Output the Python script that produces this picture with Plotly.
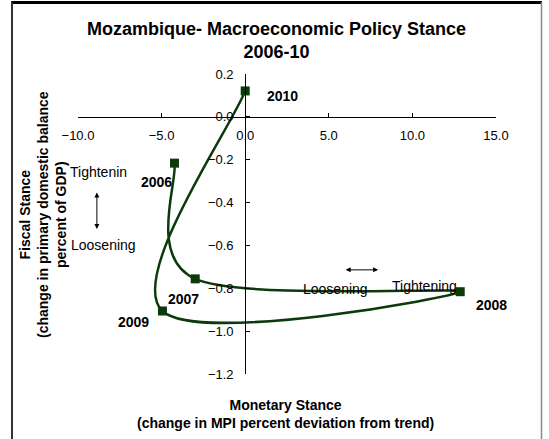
import plotly.graph_objects as go

years = ["2006", "2007", "2008", "2009", "2010"]
monetary = [-4.23, -2.99, 12.86, -4.95, 0.0]
fiscal = [-0.216, -0.756, -0.816, -0.906, 0.121]

x_ticks = [-10, -5, 0, 5, 10, 15]
y_ticks = [0.2, 0.0, -0.2, -0.4, -0.6, -0.8, -1.0, -1.2]

GREEN = "#0b3b0b"
FONT = "Liberation Sans, Arial, sans-serif"


def smooth_path(xs, ys):
    """Excel-style smoothed line: cubic Bezier segments with Catmull-Rom control points."""
    pts = list(zip(xs, ys))
    n = len(pts)
    d = "M %.5f,%.5f" % pts[0]
    for i in range(n - 1):
        p0 = pts[i - 1] if i > 0 else pts[i]
        p1 = pts[i]
        p2 = pts[i + 1]
        p3 = pts[i + 2] if i + 2 < n else pts[i + 1]
        c1 = (p1[0] + (p2[0] - p0[0]) / 6, p1[1] + (p2[1] - p0[1]) / 6)
        c2 = (p2[0] - (p3[0] - p1[0]) / 6, p2[1] - (p3[1] - p1[1]) / 6)
        d += " C %.5f,%.5f %.5f,%.5f %.5f,%.5f" % (c1[0], c1[1], c2[0], c2[1], p2[0], p2[1])
    return d


fig = go.Figure()
fig.add_trace(go.Scatter(
    x=monetary, y=fiscal, mode="markers",
    marker=dict(symbol="square", size=9, color=GREEN),
    hoverinfo="skip", showlegend=False,
))

# year labels (data coords)
label_pos = {
    "2006": (-5.32, -0.304),
    "2007": (-3.71, -0.850),
    "2008": (14.71, -0.878),
    "2009": (-6.70, -0.957),
    "2010": (2.21, 0.097),
}
ann = []
for yr in years:
    lx, ly = label_pos[yr]
    ann.append(dict(x=lx, y=ly, xref="x", yref="y", text="<b>%s</b>" % yr,
                    showarrow=False, font=dict(size=14, color="black", family=FONT)))

# stance text labels
for txt, lx, ly in [("Tightenin", -8.79, -0.257), ("Loosening", -8.5, -0.598),
                    ("Loosening", 5.39, -0.803), ("Tightening", 10.7, -0.789)]:
    ann.append(dict(x=lx, y=ly, xref="x", yref="y", text=txt, showarrow=False,
                    font=dict(size=14, color="black", family=FONT)))

# double-headed arrows
ann.append(dict(x=-8.87, y=-0.523, ax=-8.87, ay=-0.346, xref="x", yref="y",
                axref="x", ayref="y", text="", showarrow=True, arrowhead=2,
                startarrowhead=2, arrowside="end+start", arrowsize=1, arrowwidth=1,
                arrowcolor="black"))
ann.append(dict(x=7.95, y=-0.714, ax=5.92, ay=-0.714, xref="x", yref="y",
                axref="x", ayref="y", text="", showarrow=True, arrowhead=2,
                startarrowhead=2, arrowside="end+start", arrowsize=1, arrowwidth=1,
                arrowcolor="black"))

# titles
ann.append(dict(x=0.4737, y=1.113, xref="paper", yref="paper", showarrow=False,
                text="<b>Mozambique- Macroeconomic Policy Stance<br>2006-10</b>",
                font=dict(size=18, color="black", family=FONT), yanchor="middle"))
ann.append(dict(x=0.4976, y=-0.133, xref="paper", yref="paper", showarrow=False,
                text="<b>Monetary Stance<br>(change in MPI percent deviation from trend)</b>",
                font=dict(size=14, color="black", family=FONT), yanchor="middle"))
ann.append(dict(x=-0.0837, y=0.53, xref="paper", yref="paper", showarrow=False,
                textangle=-90,
                text="<b>Fiscal Stance<br>(change in primary domestic balance<br>percent of GDP)</b>",
                font=dict(size=14, color="black", family=FONT), yanchor="middle", xanchor="center"))

shapes = [
    dict(type="path", xref="x", yref="y", path=smooth_path(monetary, fiscal),
         line=dict(color=GREEN, width=2.5), layer="below"),
    dict(type="line", xref="paper", yref="paper", x0=-0.16, x1=1.11, y0=1.238, y1=1.238,
         line=dict(color="black", width=3)),
    dict(type="line", xref="paper", yref="paper", x0=-0.1579, x1=-0.1579, y0=1.24, y1=-0.25,
         line=dict(color="#333333", width=2)),
    dict(type="line", xref="paper", yref="paper", x0=1.1089, x1=1.1089, y0=1.24, y1=-0.25,
         line=dict(color="#888888", width=1.5)),
]

fig.update_layout(
    width=549, height=439,
    margin=dict(l=78, r=53, t=74, b=65, autoexpand=False),
    paper_bgcolor="white", plot_bgcolor="white",
    font=dict(family=FONT, color="black"),
    annotations=ann, shapes=shapes,
    xaxis=dict(range=[-10, 15], tickvals=x_ticks, tickformat=".1f",
               showgrid=False, zeroline=False, showline=True, linecolor="black", linewidth=1,
               ticks="inside", ticklen=4, tickcolor="black",
               anchor="free", position=(0 - (-1.2)) / 1.4,
               tickfont=dict(size=13, family=FONT, color="black"), ticklabelstandoff=7),
    yaxis=dict(range=[-1.2, 0.2], tickvals=y_ticks, tickformat=".1f",
               showgrid=False, zeroline=False, showline=True, linecolor="black", linewidth=1,
               ticks="inside", ticklen=4, tickcolor="black",
               anchor="free", position=(0 - (-10)) / 25,
               tickfont=dict(size=13, family=FONT, color="black"), ticklabelstandoff=9),
)

fig.write_html("out.html", config={"displayModeBar": False},
               post_script="document.body.style.margin='0px';")
